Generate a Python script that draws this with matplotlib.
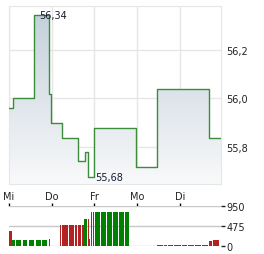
import matplotlib
matplotlib.use('Agg')
import matplotlib.pyplot as plt
import numpy as np
from matplotlib.colors import LinearSegmentedColormap

# Kurs (x in Tagen ab Mi 00:00)
zeit = [0.0, 0.094, 0.596, 0.938, 0.994, 1.236, 1.61, 1.775, 1.845, 2.0, 2.98, 3.47, 4.69, 4.965]
kurs = [55.96, 56.00, 56.34, 56.02, 55.90, 55.84, 55.745, 55.78, 55.68, 55.88, 55.72, 56.04, 55.84, 55.84]

tage = ['Mi', 'Do', 'Fr', 'Mo', 'Di']
y_ticks = [55.8, 56.0, 56.2]
y_labels = ['55,8', '56,0', '56,2']

# Umsatz-Balken
vol_von = [0.0, 0.07, 0.157, 0.32, 0.46, 0.63, 0.77, 0.93,
           1.19, 1.235, 1.40, 1.54, 1.61, 1.70, 1.75, 1.85, 1.876,
           1.916, 1.96, 2.01, 2.15, 2.29, 2.43, 2.57, 2.72,
           3.47, 3.62, 3.72, 3.86, 4.04, 4.20, 4.36, 4.52, 4.68, 4.776]
vol_bis = [0.063, 0.134, 0.29, 0.43, 0.58, 0.74, 0.88, 0.95,
           1.21, 1.376, 1.517, 1.587, 1.68, 1.75, 1.82, 1.872, 1.90,
           1.94, 1.986, 2.127, 2.27, 2.41, 2.55, 2.69, 2.81,
           3.60, 3.70, 3.84, 4.02, 4.18, 4.34, 4.50, 4.66, 4.75, 4.917]
vol_wert = [370, 157, 157, 157, 157, 157, 157, 180,
            513, 513, 513, 513, 513, 513, 648, 650, 170,
            815, 815, 815, 815, 815, 815, 815, 815,
            25, 25, 25, 25, 25, 25, 25, 25, 133, 157]
vol_farbe = ['r', 'g', 'g', 'g', 'g', 'g', 'g', 'r',
             'r', 'r', 'r', 'r', 'r', 'r', 'g', 'r', 'r',
             'g', 'g', 'g', 'g', 'g', 'g', 'g', 'g',
             'g', 'g', 'g', 'g', 'g', 'g', 'g', 'g', 'r', 'r']
vol_ticks = [0, 475, 950]

x_min, x_max = 0, 4.965
y_min, y_max = 55.65, 56.378

plt.rcParams['font.family'] = 'DejaVu Sans'
plt.rcParams['font.size'] = 7

fig = plt.figure(figsize=(2.64, 2.55), dpi=100)
ax = fig.add_axes([9 / 264, 1 - 185 / 255, 212 / 264, 178 / 255])
ax2 = fig.add_axes([9 / 264, 1 - 247.3 / 255, 212 / 264, 40 / 255])

# Kurschart
fläche = ax.fill_between(zeit, kurs, y_min, step='post', color='none', lw=0)
verlauf = np.linspace(0, 1, 256).reshape(-1, 1)
cmap = LinearSegmentedColormap.from_list('blau', ['#f8f9fa', '#c2cfd9'])
bild = ax.imshow(verlauf, extent=[x_min, x_max, y_min, y_max], origin='lower',
                 aspect='auto', cmap=cmap, zorder=1)
bild.set_clip_path(fläche.get_paths()[0], transform=ax.transData)
ax.step(zeit, kurs, where='post', color='#3c8c3c', lw=1.0, zorder=3)

ax.set_xlim(x_min, x_max)
ax.set_ylim(y_min, y_max)
ax.set_xticks(range(len(tage)))
ax.set_xticklabels(tage)
ax.set_yticks(y_ticks)
ax.set_yticklabels(y_labels)
ax.yaxis.tick_right()
ax.tick_params(length=0, pad=4, colors='#222222')
ax.tick_params(axis='x', pad=5)
ax.grid(color='#e6e6e6', lw=1)
ax.set_axisbelow(True)
for s in ax.spines.values():
    s.set_color('#e6e6e6')

i_max = int(np.argmax(kurs))
i_min = int(np.argmin(kurs))
ax.text(zeit[i_max] + 0.1, kurs[i_max], '56,34', va='center', ha='left',
        color='#1a1a30', zorder=4)
ax.text(zeit[i_min + 1] + 0.03, kurs[i_min], '55,68', va='center', ha='left',
        color='#1a1a30', zorder=4)

# Umsatzchart
farben = ['#b22222' if f == 'r' else '#008000' for f in vol_farbe]
breite = [b - v for v, b in zip(vol_von, vol_bis)]
ax2.bar(vol_von, vol_wert, width=breite, align='edge', color=farben, lw=0, zorder=3)
ax2.set_xlim(x_min, x_max)
ax2.set_ylim(0, 950)
ax2.set_yticks(vol_ticks)
ax2.yaxis.tick_right()
ax2.tick_params(axis='y', length=3, width=1, pad=1, colors='#222222')
ax2.xaxis.tick_top()
ax2.set_xticks(range(len(tage)))
ax2.set_xticklabels([])
ax2.tick_params(axis='x', length=2.5, width=1, color='black')
ax2.grid(axis='y', color='#c8c8c8', lw=1)
for s in ax2.spines.values():
    s.set_visible(False)

fig.savefig('out.png', dpi=100)
